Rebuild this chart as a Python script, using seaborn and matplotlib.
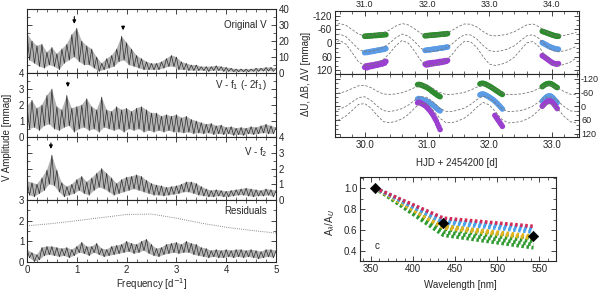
import numpy as np
import pandas as pd
import matplotlib
matplotlib.use("Agg")
import matplotlib.pyplot as plt
import seaborn as sns
from matplotlib.ticker import MultipleLocator

# ---------------- periodograms (left column) ----------------
# upper envelope sampled at 0.0, 0.1 ... 5.0 ; lower envelope at 0.05 ... 4.95
freq_hi = np.round(np.linspace(0, 5, 51), 2)
freq_lo = np.round(np.linspace(0.05, 4.95, 50), 2)

orig_hi = [25, 20, 17, 18, 13, 16, 12, 15, 18, 24, 28, 20, 17, 15, 10, 6, 9, 11, 15, 23,
           19, 15, 11, 9, 7, 6, 6, 7, 9, 11, 10, 7, 6, 5, 5, 4, 4, 4, 4.5, 4,
           3.5, 3, 2.5, 2.5, 2.5, 2.5, 3, 3, 3.5, 3.5, 3]
orig_lo = [8, 6, 4, 3, 5, 4, 2, 6, 8, 10, 7, 5, 5, 3, 1, 2, 3, 4, 7, 8,
           5, 4, 3, 2, 2, 2, 2, 3, 4, 4, 2, 2, 1.5, 1.5, 1.5, 1.5, 1, 1.5, 1.5, 1,
           1, 0.8, 0.8, 0.8, 0.8, 1, 1, 1.2, 1.2, 1]

f1_hi = [1.9, 2.3, 1.8, 2.0, 2.6, 3.0, 1.9, 1.7, 2.6, 1.8, 1.9, 2.0, 2.4, 1.9, 1.7, 2.5, 1.7, 1.6, 1.9, 1.7,
         1.8, 1.6, 1.8, 1.9, 1.7, 1.5, 1.5, 1.3, 1.4, 1.3, 1.4, 1.2, 1.3, 1.1, 1.0, 0.9, 0.8, 0.85, 0.7, 0.75,
         0.6, 0.65, 0.55, 0.6, 0.55, 0.65, 0.6, 0.7, 0.8, 0.7, 0.6]
f1_lo = [0.5, 0.6, 0.4, 0.7, 0.8, 0.5, 0.4, 0.6, 0.7, 0.3, 0.5, 0.6, 0.4, 0.5, 0.3, 0.6, 0.5, 0.4, 0.5, 0.3,
         0.5, 0.4, 0.5, 0.3, 0.4, 0.3, 0.4, 0.3, 0.4, 0.3, 0.3, 0.25, 0.3, 0.2, 0.25, 0.2, 0.25, 0.15, 0.2, 0.15,
         0.2, 0.1, 0.15, 0.1, 0.2, 0.15, 0.2, 0.25, 0.2, 0.2]

f2_hi = [1.2, 1.1, 1.0, 1.4, 1.9, 2.85, 1.9, 1.1, 0.85, 1.0, 1.3, 1.5, 1.15, 1.4, 1.7, 2.0, 1.7, 1.4, 1.05, 1.3,
         1.45, 1.5, 1.6, 1.5, 1.25, 1.05, 0.95, 0.9, 0.8, 0.85, 0.9, 1.0, 1.15, 1.15, 1.05, 0.85, 0.7, 0.6, 0.65, 0.6,
         0.55, 0.6, 0.65, 0.7, 0.75, 0.7, 0.65, 0.6, 0.7, 0.65, 0.6]
f2_lo = [0.3, 0.2, 0.4, 0.6, 1.0, 0.9, 0.5, 0.2, 0.3, 0.4, 0.6, 0.4, 0.3, 0.6, 0.8, 0.7, 0.5, 0.3, 0.4, 0.5,
         0.6, 0.7, 0.6, 0.5, 0.4, 0.3, 0.3, 0.25, 0.3, 0.35, 0.4, 0.5, 0.5, 0.4, 0.3, 0.25, 0.2, 0.2, 0.25, 0.2,
         0.2, 0.25, 0.3, 0.3, 0.25, 0.2, 0.25, 0.25, 0.3, 0.2]

res_hi = [0.6, 0.45, 0.35, 0.7, 0.75, 0.75, 0.7, 0.65, 0.7, 0.6, 0.75, 0.95, 0.75, 0.75, 0.9, 0.65, 0.6, 0.75, 0.8, 0.85,
          1.0, 0.9, 0.85, 1.0, 1.1, 0.85, 0.65, 0.7, 0.85, 0.9, 0.95, 0.85, 1.0, 0.9, 0.85, 0.7, 0.65, 0.55, 0.6, 0.55,
          0.6, 0.55, 0.6, 0.6, 0.55, 0.6, 0.55, 0.5, 0.6, 0.6, 0.55]
res_lo = [0.2, 0.02, 0.1, 0.3, 0.35, 0.3, 0.25, 0.3, 0.2, 0.3, 0.45, 0.4, 0.3, 0.45, 0.35, 0.25, 0.3, 0.35, 0.4, 0.45,
          0.5, 0.4, 0.45, 0.55, 0.4, 0.3, 0.25, 0.35, 0.4, 0.45, 0.4, 0.45, 0.45, 0.35, 0.3, 0.25, 0.2, 0.25, 0.2, 0.2,
          0.25, 0.2, 0.25, 0.2, 0.25, 0.2, 0.15, 0.2, 0.25, 0.2]

# noise level (dotted) in the residual panel
level_f = [0, 0.5, 1.0, 1.5, 2.0, 2.5, 3.0, 3.5, 4.0, 4.5, 5.0]
level_amp = [1.75, 1.86, 2.0, 2.15, 2.3, 2.32, 2.12, 1.88, 1.68, 1.53, 1.4]

panel_names = ["Original V", "V - f$_1$ (- 2f$_1$)", "V - f$_2$", "Residuals"]
arrows_f = [[0.95, 1.93], [0.82], [0.48], []]

# ---------------- light curves (top right) ----------------
lc_t_top = np.round(np.linspace(30.5, 34.4, 40), 2)
lc_t_bot = np.round(np.linspace(29.5, 33.4, 40), 2)

fit_top_v = [-79, -86, -78, -59, -40, -31, -33, -38, -45, -58, -75, -86, -80, -63, -43, -31, -33, -36, -43, -55,
             -72, -84, -83, -71, -51, -35, -32, -35, -40, -50, -65, -80, -84, -72, -52, -36, -31, -34, -40, -48]
fit_top_b = [-30, -40, -28, -2, 26, 38, 36, 29, 18, 0, -24, -40, -31, -7, 22, 38, 36, 31, 21, 4,
             -20, -37, -36, -18, 10, 33, 37, 33, 25, 12, -10, -32, -37, -20, 8, 31, 38, 34, 26, 14]
fit_top_u = [2, -12, 5, 42, 82, 99, 96, 87, 71, 45, 11, -12, 0, 35, 76, 99, 97, 89, 75, 51,
             16, -8, -6, 19, 59, 92, 98, 92, 81, 62, 31, -1, -7, 16, 56, 89, 99, 94, 83, 65]

fit_bot_v = [-54, -58, -66, -78, -90, -92, -82, -66, -54, -52, -54, -60, -69, -82, -93, -90, -78, -61, -52, -52,
             -56, -61, -71, -84, -94, -88, -74, -59, -51, -52, -54, -59, -66, -79, -91, -91, -80, -65, -53, -51]
fit_bot_b = [19, 12, 0, -19, -38, -42, -26, -1, 19, 23, 18, 10, -5, -26, -43, -39, -19, 7, 22, 23,
             16, 8, -8, -29, -45, -36, -14, 11, 23, 22, 19, 11, -1, -20, -40, -41, -23, 1, 20, 23]
fit_bot_u = [67, 58, 42, 18, -8, -12, 8, 40, 67, 72, 66, 55, 36, 8, -15, -9, 18, 51, 71, 72,
             64, 52, 31, 4, -17, -6, 24, 57, 73, 71, 67, 57, 41, 15, -10, -11, 12, 44, 68, 73]

# observed points, upper panel (top HJD axis)
seg_a = np.round(np.linspace(31.00, 31.34, 18), 2)
seg_a_v = [-30, -31, -30, -32, -31, -33, -32, -33, -34, -33, -35, -34, -36, -35, -37, -36, -38, -37]
seg_a_b = [42, 40, 41, 38, 39, 36, 37, 34, 35, 33, 31, 32, 29, 30, 27, 28, 25, 24]
seg_a_u = [106, 100, 108, 98, 104, 96, 102, 95, 99, 92, 97, 90, 94, 87, 92, 84, 88, 80]
seg_b = np.round(np.linspace(31.97, 32.33, 19), 2)
seg_b_v = [-32, -33, -33, -34, -34, -35, -35, -36, -36, -37, -37, -38, -38, -39, -39, -40, -40, -41, -42]
seg_b_b = [32, 31, 30, 29, 29, 28, 27, 26, 26, 25, 24, 23, 22, 22, 21, 20, 19, 18, 17]
seg_b_u = [92, 96, 88, 94, 86, 92, 85, 90, 84, 88, 82, 87, 80, 85, 79, 83, 77, 80, 76]
seg_c = np.round(np.linspace(33.85, 34.11, 14), 2)
seg_c_v = [-52, -50, -48, -46, -44, -42, -40, -38, -36, -34, -33, -31, -30, -30]
seg_c_b = [-2, 1, 4, 7, 10, 13, 16, 18, 20, 22, 24, 25, 26, 27]
seg_c_u = [55, 58, 62, 66, 70, 74, 78, 82, 86, 88, 90, 91, 92, 90]

# observed points, lower panel (bottom HJD axis)
seg_d = np.round(np.linspace(30.85, 31.21, 19), 2)
seg_d_v = [-95, -96, -95, -93, -91, -88, -86, -84, -80, -77, -73, -68, -64, -60, -56, -52, -48, -45, -42]
seg_d_b = [-32, -34, -33, -30, -29, -27, -25, -24, -20, -17, -14, -10, -6, -2, 3, 8, 13, 17, 20]
seg_d_u = [-15, -18, -16, -12, -10, -6, -3, 2, 8, 14, 20, 28, 36, 45, 55, 65, 78, 90, 102]
seg_e = np.round(np.linspace(31.85, 32.21, 19), 2)
seg_e_v = [-98, -100, -101, -100, -98, -96, -93, -90, -87, -84, -80, -77, -73, -69, -66, -62, -58, -55, -52]
seg_e_b = [-50, -53, -54, -53, -51, -48, -45, -42, -38, -35, -31, -27, -22, -17, -12, -6, 0, 6, 12]
seg_e_tu = np.round(np.linspace(32.09, 32.21, 7), 2)
seg_e_u = [40, 48, 56, 64, 72, 80, 88]
seg_f = np.round(np.linspace(32.85, 33.09, 13), 2)
seg_f_v = [-86, -90, -94, -97, -99, -100, -100, -99, -96, -93, -89, -85, -82]
seg_f_b = [-22, -28, -34, -39, -43, -45, -46, -44, -40, -35, -28, -22, -16]
seg_f_u = [0, -6, -12, -17, -21, -23, -24, -22, -18, -12, -5, 2, 10]

# ---------------- amplitude ratios (bottom right) ----------------
band_wl = [355, 436, 543]
obs_ratio = [1.0, 0.67, 0.54]
model_red = [[1.0, 0.713, 0.635]]
model_blue = [[1.0, 0.70, 0.62], [1.0, 0.685, 0.60], [1.0, 0.67, 0.58]]
model_orange = [[1.0, 0.64, 0.54], [1.0, 0.62, 0.52]]
model_green = [[1.0, 0.64, 0.52], [1.0, 0.61, 0.49], [1.0, 0.58, 0.46], [1.0, 0.55, 0.43]]

# ---------------- styling ----------------
sns.set_style("ticks")
plt.rcParams['font.family'] = ['Liberation Sans', 'DejaVu Sans']
plt.rcParams['font.size'] = 7
plt.rcParams['axes.unicode_minus'] = False

c_v, c_b, c_u = "#2e8b2e", "#5b9be6", "#9a3fcf"


def style_ax(ax):
    ax.tick_params(which='both', direction='in', top=True, right=True, labelsize=7, pad=2)
    ax.tick_params(which='major', length=3.5, width=0.6)
    ax.tick_params(which='minor', length=2, width=0.5)
    for s in ax.spines.values():
        s.set_linewidth(0.8)
    ax.set_xlabel("")
    ax.set_ylabel("")


fig = plt.figure(figsize=(6.0, 2.91), dpi=100)

# left column
left_boxes = [[0.045, 0.749, 0.415, 0.22], [0.045, 0.529, 0.415, 0.22],
              [0.045, 0.3127, 0.415, 0.2163], [0.045, 0.0997, 0.415, 0.213]]
his = [orig_hi, f1_hi, f2_hi, res_hi]
los = [orig_lo, f1_lo, f2_lo, res_lo]
ytop = [40, 4, 4, 3]
ystep = [10, 1, 1, 1]
label_right = [True, False, True, False]
name_y = [30, 3.26, 3.07, 2.45]
arrow_span = [[(37, 29), (31, 25)], [(3.6, 2.95)], [(3.8, 3.07)], []]

for i in range(4):
    ax = fig.add_axes(left_boxes[i])
    # grey band between the upper and lower envelope
    ax.fill(np.concatenate([freq_hi, freq_lo[::-1]]), np.concatenate([his[i], los[i][::-1]]),
            color="#b4b4b4", lw=0)
    f = np.concatenate([freq_hi, freq_lo])
    a = np.concatenate([his[i], los[i]])
    order = np.argsort(f)
    df = pd.DataFrame({"freq": f[order], "amp": a[order]})
    sns.lineplot(data=df, x="freq", y="amp", ax=ax, color="#2c2c2c", lw=0.5, estimator=None)
    if i == 3:
        sns.lineplot(x=level_f, y=level_amp, ax=ax, color="#888888", lw=0.7, linestyle=(0, (1, 1.2)))
    ax.set_xlim(0, 5)
    ax.set_ylim(0, ytop[i])
    ax.xaxis.set_major_locator(MultipleLocator(1))
    ax.xaxis.set_minor_locator(MultipleLocator(0.2))
    ax.yaxis.set_major_locator(MultipleLocator(ystep[i]))
    ax.yaxis.set_minor_locator(MultipleLocator(ystep[i] / 2))
    style_ax(ax)
    if label_right[i]:
        ax.tick_params(axis='y', labelleft=False, labelright=True)
    if i < 3:
        ax.tick_params(axis='x', labelbottom=False)
    ax.text(4.82, name_y[i], panel_names[i], ha="right", va="center", fontsize=7)
    for fx, (y0, y1) in zip(arrows_f[i], arrow_span[i]):
        ax.annotate("", xy=(fx, y1), xytext=(fx, y0),
                    arrowprops=dict(arrowstyle="-|>", color="k", lw=0.8, mutation_scale=5))

fig.text(0.012, 0.529, "V Amplitude [mmag]", rotation=90, ha="center", va="center", fontsize=7)
fig.text(0.253, 0.025, "Frequency [d$^{-1}$]", ha="center", va="center", fontsize=7)

# top right light curves
ax_u = fig.add_axes([0.558, 0.746, 0.407, 0.217])
ax_l = fig.add_axes([0.558, 0.529, 0.407, 0.217])

top_obs = pd.DataFrame({
    "t": np.concatenate([seg_a, seg_b, seg_c] * 3),
    "dmag": np.concatenate([seg_a_v, seg_b_v, seg_c_v, seg_a_b, seg_b_b, seg_c_b, seg_a_u, seg_b_u, seg_c_u]),
    "band": ["V"] * 51 + ["B"] * 51 + ["U"] * 51,
})
bot_obs = pd.DataFrame({
    "t": np.concatenate([seg_d, seg_e, seg_f, seg_d, seg_e, seg_f, seg_d, seg_e_tu, seg_f]),
    "dmag": np.concatenate([seg_d_v, seg_e_v, seg_f_v, seg_d_b, seg_e_b, seg_f_b, seg_d_u, seg_e_u, seg_f_u]),
    "band": ["V"] * 51 + ["B"] * 51 + ["U"] * 39,
})
pal = {"V": c_v, "B": c_b, "U": c_u}

for ax, tt, fits, obs, lims in [
        (ax_u, lc_t_top, [fit_top_v, fit_top_b, fit_top_u], top_obs, (30.52, 34.44)),
        (ax_l, lc_t_bot, [fit_bot_v, fit_bot_b, fit_bot_u], bot_obs, (29.52, 33.44))]:
    for fit in fits:
        sns.lineplot(x=tt, y=fit, ax=ax, color="#777777", lw=0.6, linestyle=(0, (3, 2)))
    sns.scatterplot(data=obs, x="t", y="dmag", hue="band", palette=pal, ax=ax,
                    s=16, edgecolor="none", legend=False)
    ax.set_xlim(*lims)
    ax.set_ylim(135, -142)
    ax.xaxis.set_major_locator(MultipleLocator(1))
    ax.xaxis.set_minor_locator(MultipleLocator(0.2))
    ax.yaxis.set_major_locator(MultipleLocator(60))
    ax.yaxis.set_minor_locator(MultipleLocator(20))
    style_ax(ax)
    ax.xaxis.set_major_formatter(matplotlib.ticker.FormatStrFormatter("%.1f"))

ax_u.tick_params(axis='x', labelbottom=False, labeltop=True, pad=1, labelsize=6.5)
ax_l.tick_params(axis='y', labelleft=False, labelright=True, pad=1.5, labelsize=6.5)

fig.text(0.51, 0.746, "ΔU, ΔB, ΔV [mmag]", rotation=90, ha="center", va="center", fontsize=7)
fig.text(0.761, 0.441, "HJD + 2454200 [d]", ha="center", va="center", fontsize=7)

# bottom right amplitude ratios
ax_r = fig.add_axes([0.6, 0.103, 0.327, 0.289])
for group, col in [(model_green, "#2f9a2f"), (model_orange, "#e3b31f"),
                   (model_blue, "#4aa3ea"), (model_red, "#d42a55")]:
    for line in group:
        sns.lineplot(x=band_wl, y=line, ax=ax_r, color=col, lw=2.6, linestyle=(0, (0.7, 0.7)))
sns.scatterplot(x=band_wl, y=obs_ratio, ax=ax_r, marker="D", s=28, color="black", edgecolor="black", zorder=5)
ax_r.set_xlim(337, 570)
ax_r.set_ylim(0.304, 1.106)
ax_r.xaxis.set_major_locator(MultipleLocator(50))
ax_r.xaxis.set_minor_locator(MultipleLocator(10))
ax_r.yaxis.set_major_locator(MultipleLocator(0.2))
ax_r.yaxis.set_minor_locator(MultipleLocator(0.1))
style_ax(ax_r)
ax_r.yaxis.set_major_formatter(matplotlib.ticker.FormatStrFormatter("%.1f"))
ax_r.text(357, 0.445, "c", fontsize=7, ha="center", va="center")
fig.text(0.55, 0.234, "A$_\\lambda$/A$_U$", rotation=90, ha="center", va="center", fontsize=7)
fig.text(0.767, 0.021, "Wavelength [nm]", ha="center", va="center", fontsize=7)

fig.savefig("out.png", dpi=100)
